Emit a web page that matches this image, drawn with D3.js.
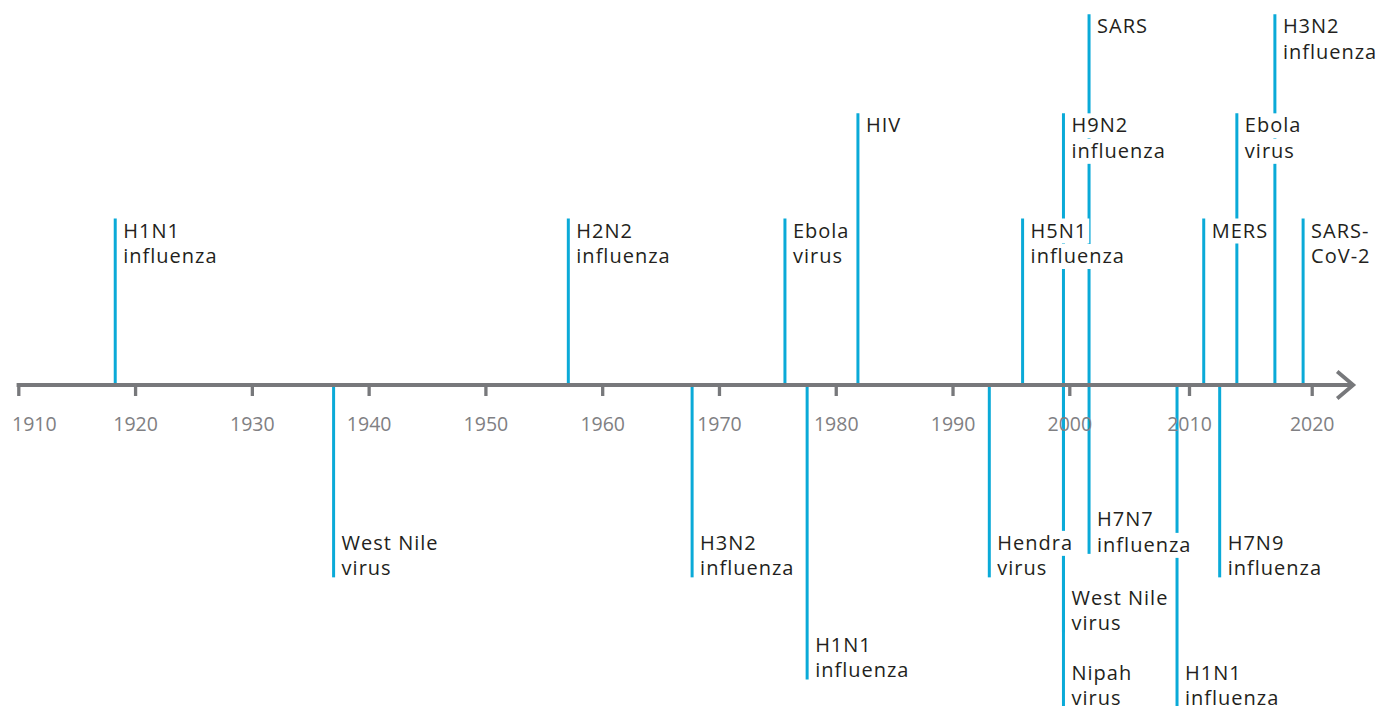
<!DOCTYPE html>
<html>
<head>
<meta charset="utf-8">
<script src="https://cdn.jsdelivr.net/npm/d3@7/dist/d3.min.js"></script>
<style>
  html, body { margin: 0; padding: 0; background: #ffffff; }
  svg { display: block; }
</style>
</head>
<body>
<svg id="chart" width="1381" height="706"></svg>
<script>
// ---- data ----
const tickYears = [1910, 1920, 1930, 1940, 1950, 1960, 1970, 1980, 1990, 2000, 2010, 2020];
const eventYears = [1918.3, 1937.0, 1957.1, 1967.7, 1975.65, 1977.55, 1981.9, 1993.15, 1996.0, 1999.5,
                    1999.5, 1999.5, 2001.65, 2001.65, 2009.0, 2011.2, 2012.5, 2013.9, 2017.0, 2019.3];
const eventNames = ["H1N1\ninfluenza", "West Nile\nvirus", "H2N2\ninfluenza", "H3N2\ninfluenza", "Ebola\nvirus",
                    "H1N1\ninfluenza", "HIV", "Hendra\nvirus", "H5N1\ninfluenza", "H9N2\ninfluenza",
                    "West Nile\nvirus", "Nipah\nvirus", "SARS", "H7N7\ninfluenza", "H1N1\ninfluenza",
                    "MERS", "H7N9\ninfluenza", "Ebola\nvirus", "H3N2\ninfluenza", "SARS-\nCoV-2"];
const eventSides = ["above", "below", "above", "below", "above", "below", "above", "below", "above", "above",
                    "below", "below", "above", "below", "below", "above", "below", "above", "above", "above"];
const eventTiers = [1, 1.17, 1, 1.17, 1, 2.17, 2.03, 1.17, 1, 2.03,
                    1.71, 2.44, 3, 0.94, 2.44, 1, 1.17, 2.03, 3, 1];

// ---- layout ----
const W = 1381, H = 706;
const axisY = 385;
const blue = "#0aaad8", grey = "#77787b", textCol = "#231f20";
const fontFam = "'Open Sans', 'Noto Sans', sans-serif";
const fontSize = 20, lineH = 25.5;

const svg = d3.select("#chart");

const x = d3.scaleLinear()
  .domain([1910, 2000, 2010, 2020])
  .range([18.3, 1069.3, 1189, 1311.7]);

const tierScale = d3.scaleLinear().domain([1, 3]).range([147.5, 351.7]);

const events = eventYears.map((yr, i) => ({
  year: yr,
  lines: eventNames[i].split("\n"),
  side: eventSides[i],
  tier: eventTiers[i]
}));
events.forEach(e => {
  const off = tierScale(e.tier);
  if (e.side === "above") {
    e.base = axisY - off;
    e.y1 = e.base - 19;
  } else {
    e.base = axisY + off;
    e.y1 = e.base + (e.lines.length - 1) * lineH + 2;
  }
});

// ---- vertical event lines ----
svg.append("g").selectAll("line").data(events).join("line")
  .attr("x1", d => x(d.year)).attr("x2", d => x(d.year))
  .attr("y1", axisY).attr("y2", d => d.y1)
  .attr("stroke", blue).attr("stroke-width", 3);

// ---- axis ----
const axisG = svg.append("g").attr("transform", `translate(0,${axisY})`);
axisG.call(d3.axisBottom(x).tickValues(tickYears).tickFormat(d3.format("d")).tickSize(11).tickSizeOuter(0));
axisG.select(".domain").remove();
axisG.selectAll(".tick line").attr("stroke", grey).attr("stroke-width", 3.3);
axisG.selectAll(".tick text")
  .attr("fill", "#808083").attr("font-family", fontFam).attr("font-size", 19.5)
  .attr("y", 45.7).attr("dy", 0);
// first label kept inside the frame
axisG.selectAll(".tick text").filter((d, i) => i === 0)
  .attr("text-anchor", "start").attr("x", -6.8);

axisG.append("line")
  .attr("x1", x(1910) - 1.7).attr("x2", x.range()[3] + 41)
  .attr("y1", 0).attr("y2", 0)
  .attr("stroke", grey).attr("stroke-width", 4);
const tipX = x.range()[3] + 41.5;
axisG.append("path")
  .attr("d", `M${tipX - 16},-13.5 L${tipX},0 L${tipX - 16},13.5`)
  .attr("fill", "none").attr("stroke", grey).attr("stroke-width", 3.8)
  .attr("stroke-linejoin", "miter");

// ---- labels with white knock-out ----
const labG = svg.append("g");
events.forEach(e => {
  const g = labG.append("g");
  const tx = x(e.year) + 8;
  e.lines.forEach((ln, k) => {
    const by = e.base + k * lineH;
    const rect = g.append("rect").attr("fill", "#ffffff");
    const t = g.append("text")
      .attr("x", tx).attr("y", by)
      .attr("font-family", fontFam).attr("font-size", fontSize)
      .attr("letter-spacing", 1)
      .attr("fill", textCol)
      .text(ln);
    const len = t.node().getComputedTextLength();
    rect.attr("x", tx - 3).attr("y", by - 19).attr("width", len + 5).attr("height", 25);
  });
});
</script>
</body>
</html>
